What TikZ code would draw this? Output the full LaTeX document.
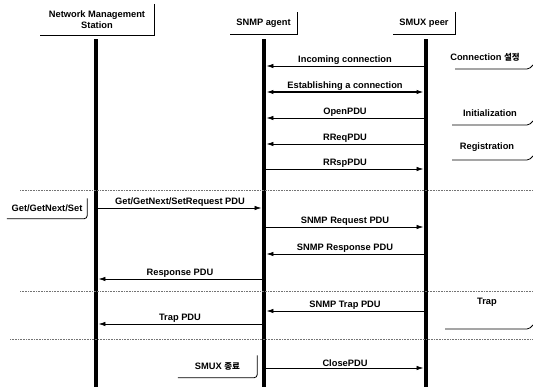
\documentclass[tikz,border=0pt]{standalone}
\usepackage{fontspec}
\setmainfont{Liberation Sans}
\newfontfamily\kofont{Noto Sans CJK KR}
\usetikzlibrary{arrows.meta,positioning,calc}

\begin{document}
\begin{tikzpicture}[
    x=1pt, y=-1pt,
    font=\fontsize{9.3}{10.5}\selectfont\bfseries,
    head/.style={inner sep=0pt, align=center},
    bar/.style={fill=black, draw=none, minimum width=4.5pt, inner sep=0pt},
    msg/.style={-{Latex[length=7pt,width=4.5pt]}, line width=0.8pt},
    both/.style={{Latex[length=7pt,width=4.5pt]}-{Latex[length=7pt,width=4.5pt]}, line width=1.2pt},
    lbl/.style={above=0.5pt, inner sep=0.5pt},
    note/.style={align=center, inner sep=0pt},
    edge/.style={line width=0.8pt},
    sep/.style={densely dotted, black!55, line width=0.6pt}
]
    \useasboundingbox (0,0) rectangle (533,387);

    % Headers
    \node[head, minimum width=114pt, minimum height=31pt] (nms) at (97,19.5) {Network Management\\Station};
    \node[head, minimum width=67pt, minimum height=22pt] (agent) at (263.5,23.5) {SNMP agent};
    \node[head, minimum width=62pt, minimum height=22pt] (peer) at (424,23) {SMUX peer};
    \draw[edge] (nms.north east) -- (nms.south east) -- (nms.south west);
    \draw[edge] (agent.north east) -- (agent.south east) -- (agent.south west);
    \draw[edge] (peer.north east) -- (peer.south east) -- (peer.south west);

    % Lifelines
    \node[bar, minimum height=348pt] (nmsL) at (96,213.5) {};
    \node[bar, minimum height=348pt] (agentL) at (264,213.5) {};
    \node[bar, minimum height=348pt] (peerL) at (426,213.5) {};

    % Separators
    \draw[sep] (20,190) -- (533,190);
    \draw[sep] (20,291) -- (533,291);
    \draw[sep] (10,339) -- (533,339);

    % Connection and registration
    \draw[msg] (peerL.west |- 0,66) -- node[lbl] {Incoming connection} (agentL.east |- 0,66);
    \draw[both] (agentL.east |- 0,92) -- node[lbl] {Establishing a connection} (peerL.west |- 0,92);
    \draw[msg] (peerL.west |- 0,118) -- node[lbl] {OpenPDU} (agentL.east |- 0,118);
    \draw[msg] (peerL.west |- 0,144) -- node[lbl] {RReqPDU} (agentL.east |- 0,144);
    \draw[msg] (agentL.east |- 0,169) -- node[lbl] {RRspPDU} (peerL.west |- 0,169);

    % Get/GetNext/Set
    \draw[msg] (nmsL.east |- 0,208) -- node[lbl] {Get/GetNext/SetRequest PDU} (agentL.west |- 0,208);
    \draw[msg] (agentL.east |- 0,227) -- node[lbl] {SNMP Request PDU} (peerL.west |- 0,227);
    \draw[msg] (peerL.west |- 0,254) -- node[lbl] {SNMP Response PDU} (agentL.east |- 0,254);
    \draw[msg] (agentL.west |- 0,279) -- node[lbl] {Response PDU} (nmsL.east |- 0,279);

    % Trap
    \draw[msg] (peerL.west |- 0,311) -- node[lbl] {SNMP Trap PDU} (agentL.east |- 0,311);
    \draw[msg] (agentL.west |- 0,324) -- node[lbl] {Trap PDU} (nmsL.east |- 0,324);

    % Close
    \draw[msg] (agentL.east |- 0,368) -- node[lbl] {ClosePDU} (peerL.west |- 0,368);

    % Notes on the left
    \node[note, minimum width=80pt, minimum height=20pt] (getnote) at (47,208.5) {Get/GetNext/Set};
    \draw[edge, rounded corners=3pt] (getnote.north east) |- (getnote.south west);
    \node[note, minimum width=79pt, minimum height=22pt] (closenote) at (217.5,366.5) {SMUX {\kofont\fontsize{8.5}{10}\selectfont 종료}};
    \draw[edge, rounded corners=3pt] (closenote.north east) |- (closenote.south west);

    % Notes on the right
    \node[note] (connnote) at (485,57) {Connection {\kofont\fontsize{8.5}{10}\selectfont 설정}};
    \node[note] (initnote) at (490,113) {Initialization};
    \node[note] (regnote) at (487,147) {Registration};
    \node[note] (trapnote) at (487,302) {Trap};
    \draw[edge] (455,69) -- (527,69) to[out=0,in=-135] (533,65);
    \draw[edge] (452,125) -- (527,125) to[out=0,in=-135] (533,121);
    \draw[edge] (452,160) -- (527,160) to[out=0,in=-135] (533,156);
    \draw[edge] (445,329) -- (527,329) to[out=0,in=-135] (533,325);
\end{tikzpicture}
\end{document}
